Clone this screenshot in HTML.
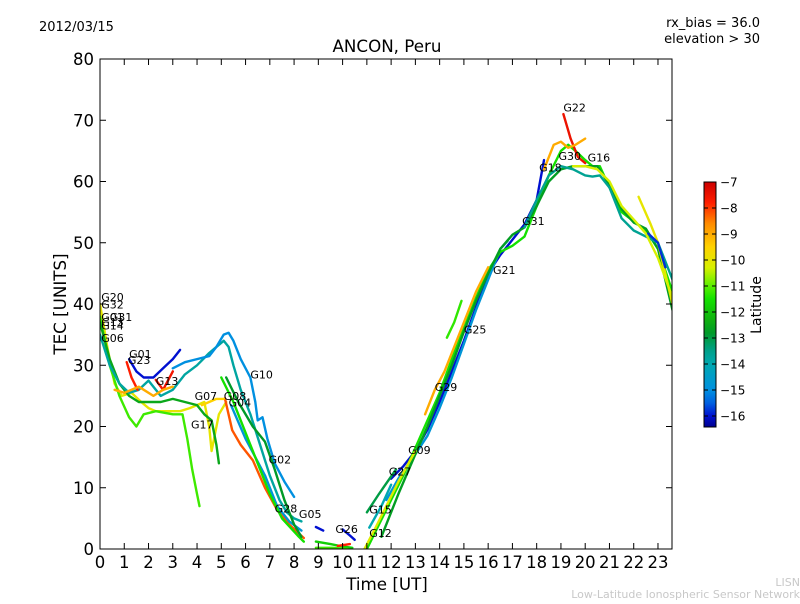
<!DOCTYPE html>
<html><head><meta charset="utf-8"><style>
body{margin:0;background:#fff;width:800px;height:600px;overflow:hidden;font-family:"DejaVu Sans","Liberation Sans",sans-serif}
</style></head><body>
<svg id="chart" width="800" height="600" xmlns="http://www.w3.org/2000/svg" font-family="DejaVu Sans, Liberation Sans, sans-serif">
<defs>
<linearGradient id="cbg" x1="0" y1="0" x2="0" y2="1">
</linearGradient>
<clipPath id="pc"><rect x="100" y="59" width="572" height="490"/></clipPath>
</defs>
<text x="39" y="31" font-size="13">2012/03/15</text>
<text x="760" y="27" font-size="13" text-anchor="end">rx_bias = 36.0</text>
<text x="760" y="43" font-size="13" text-anchor="end">elevation &gt; 30</text>
<text x="387" y="52" font-size="16.7" text-anchor="middle">ANCON, Peru</text>
<text x="387" y="590" font-size="16.7" text-anchor="middle">Time [UT]</text>
<text x="0" y="0" font-size="16.7" text-anchor="middle" transform="translate(66,304) rotate(-90)">TEC [UNITS]</text>
<g id="tracks" clip-path="url(#pc)"></g>
<g id="labels" font-size="11"></g>
<rect x="100" y="59" width="572" height="490" fill="none" stroke="#000" stroke-width="1"/>
<g id="axes"></g>
<rect x="704" y="182" width="12" height="245" fill="url(#cbg)" stroke="#000" stroke-width="1"/>
<g id="cbticks" font-size="12"></g>
<text x="0" y="0" font-size="14" text-anchor="middle" transform="translate(761,305) rotate(-90)">Latitude</text>
<text x="800" y="586" font-size="11" fill="#c8c8c8" text-anchor="end">LISN</text>
<text x="800" y="598" font-size="11" fill="#c8c8c8" text-anchor="end">Low-Latitude Ionospheric Sensor Network</text>
</svg>
<script>
const xTicks=[0,1,2,3,4,5,6,7,8,9,10,11,12,13,14,15,16,17,18,19,20,21,22,23];
const yTicks=[0,10,20,30,40,50,60,70,80];
const cbTicks=[-7,-8,-9,-10,-11,-12,-13,-14,-15,-16];
const trackLats=[-10,-11.2,-12.5,-13.8,-15,-16,-7.8,-7.6,-9,-8.2,-14.8,-11.5,-12.8,-16,-9.5,-11.8,-16,-7.8,-11.2,-16,-14.8,-11.5,-9,-12.7,-13.6,-10,-11.3,-7.5,-9,-10.3,-13,-14,-10.2,-15.8];
const trackData=[
[[0,40],[0.3,33],[0.6,27],[0.9,25],[1.3,25.5],[1.7,24],[2.0,23],[2.3,22.5],[2.8,22.5],[3.3,22.5],[3.7,23],[4.0,23.5],[4.3,24],[4.5,20],[4.6,16],[4.7,18],[4.9,22],[5.2,24]],
[[0,38],[0.4,30],[0.8,25],[1.2,21.5],[1.5,20],[1.8,22],[2.3,22.5],[3.0,22],[3.4,22],[3.6,18],[3.8,13],[4.0,9],[4.1,7]],
[[0,37],[0.4,31],[0.8,27],[1.2,25],[1.6,24],[2.5,24],[3,24.5],[3.5,24],[4.0,23.5],[4.3,22],[4.6,21],[4.8,17],[4.9,14]],
[[0,35],[0.4,30],[0.8,27],[1.2,25.5],[1.6,26],[2.0,27.5],[2.5,25],[3.0,26],[3.5,28.5],[4.0,30],[4.5,32],[4.8,33],[5.1,34],[5.3,33],[5.5,30],[5.8,26],[6.2,22],[6.6,17],[7.0,12],[7.4,8],[7.7,6],[8.0,5],[8.3,4.5]],
[[3.0,29.5],[3.5,30.5],[4,31],[4.5,31.5],[4.8,33],[5.1,35],[5.3,35.3],[5.5,34],[5.8,31],[6.2,28],[6.4,24],[6.5,21],[6.7,21.5],[6.9,18],[7.2,14],[7.6,11],[8.0,8.5]],
[[1.2,31],[1.5,29],[1.8,28],[2.2,28],[2.6,29.5],[3.0,31],[3.3,32.5]],
[[1.1,30.5],[1.3,28],[1.55,26]],
[[2.3,27.6],[2.6,26],[3.0,29]],
[[0.6,26],[1.0,25.5],[1.6,26.5],[2.2,25],[2.6,26],[3.0,26.5]],
[[5.15,24.6],[5.45,19.4],[5.8,17],[6.3,14.5],[6.8,10],[7.3,6.4],[7.8,4],[8.4,1.8]],
[[5.4,23.5],[6,18],[6.8,12],[7.3,7],[7.8,4.5],[8.3,3]],
[[5.0,28],[5.5,24],[6.2,17],[7,9],[7.5,5],[8.2,2],[8.4,1.2]],
[[5.2,28],[5.7,24],[6.3,20],[6.8,17.5],[7.2,13],[7.6,8],[8.0,4],[8.3,2]],
[[8.9,3.6],[9.2,3.0]],
[[4.2,23.5],[4.8,24.5],[5.1,24.5]],
[[8.9,1.2],[9.5,0.8],[10,0.4],[10.4,0.2]],
[[10,3.2],[10.3,2.2],[10.5,1.5]],
[[9.8,0.5],[10.3,0.8]],
[[8.9,0.2],[9.6,0.2],[10.2,0]],
[[12,11.5],[12.5,13.5],[13,16],[13.5,19.5],[14,24],[14.5,29],[15,34],[15.5,39.5],[16,45],[16.5,48],[17,50.5],[17.5,53],[18,57],[18.3,63.5]],
[[11.8,8],[12.3,11.5],[13,15.5],[13.5,18.5],[14,23],[14.5,28],[15,33.5],[15.5,39],[16,44],[16.5,49],[16.8,50.3]],
[[11,0],[11.5,4],[12,8],[12.5,12],[13,16.5],[13.5,21],[14,25.5],[14.5,31],[15,36],[15.5,41],[16,45.5],[16.5,48.5],[17,49.5],[17.5,51],[18,56],[18.5,61],[19,65],[19.3,66],[19.6,65],[20,63.5],[20.3,62.5],[20.6,62.5],[21,59],[21.5,55],[22,53.5],[22.5,52],[23,49],[23.6,42]],
[[13.4,22],[13.8,26],[14.2,29],[14.6,33],[15,37],[15.5,42],[16,46]],
[[11.6,2],[12.3,9],[13,15.5],[13.5,20],[14,25],[14.5,30],[15,35.5],[15.5,40.5],[16,45],[16.5,49],[17,51.3],[17.5,52.5],[18,56],[18.5,60],[19,62],[19.5,62.5],[20,62.5],[20.5,62.5],[21,59.5],[21.5,55.5],[22,53.3],[22.5,52.3],[23,49],[23.6,39]],
[[17.5,52.5],[18,57],[18.5,61],[19,62.5],[19.5,62],[20,61],[20.3,60.8],[20.6,61],[21,59],[21.5,54],[22,52],[22.5,51],[23,50],[23.6,44]],
[[22.2,57.5],[22.7,53],[23,50],[23.6,40]],
[[14.3,34.5],[14.6,37],[14.9,40.5]],
[[19.1,71],[19.4,67],[19.7,64],[20,63]],
[[18.3,62],[18.7,66],[19.0,66.5],[19.3,65.5],[19.6,66],[20,67]],
[[19.5,62.5],[20,62.5],[20.5,62],[21,60],[21.5,56],[22,53.8],[22.5,51.5],[23,47.5],[23.6,41]],
[[11.0,6],[11.5,9],[12.2,13]],
[[11.1,3.5],[11.6,7],[12,10.5]],
[[10.9,0],[11.3,3],[11.8,7],[12.3,11],[13,16]],
[[22.6,51.5],[23,50],[23.3,46]]
];
const NS="http://www.w3.org/2000/svg";
const X0=100,XS=24.26,Y0=549,YS=6.125;
function xs(t){return X0+t*XS;}
function ys(v){return Y0-v*YS;}
const cStops=[[-7,[204,0,0]],[-7.8,[255,30,0]],[-8.6,[255,140,0]],[-9.5,[255,210,0]],[-10.3,[215,240,0]],[-11,[90,240,0]],[-11.5,[20,225,0]],[-12.3,[16,176,16]],[-12.8,[0,154,40]],[-13.5,[0,160,138]],[-14,[0,168,176]],[-15,[0,144,224]],[-15.5,[0,96,224]],[-16,[0,16,208]],[-16.42,[0,0,144]]];
function col(l){for(let i=0;i<cStops.length-1;i++){const a=cStops[i],b=cStops[i+1];if(l<=a[0]&&l>=b[0]){const f=(a[0]-l)/(a[0]-b[0]);const c=a[1].map((v,k)=>Math.round(v+(b[1][k]-v)*f));return `rgb(${c})`;}}return l>-7?'rgb(204,0,0)':'rgb(0,0,144)';}
function mk(tag,attrs,parent){const e=document.createElementNS(NS,tag);for(const k in attrs)e.setAttribute(k,attrs[k]);parent.appendChild(e);return e;}
const grad=document.getElementById('cbg');
cStops.forEach(s=>{mk('stop',{offset:((-7-s[0])/9.42).toFixed(3),'stop-color':col(s[0])},grad);});
const tg=document.getElementById('tracks');
trackData.forEach((tr,i)=>{
 const p=mk('polyline',{points:tr.map(d=>xs(d[0]).toFixed(1)+','+ys(d[1]).toFixed(1)).join(' '),fill:'none',stroke:col(trackLats[i]),'stroke-width':2.4,'stroke-linejoin':'round','stroke-linecap':'round'},tg);
 
 
});
const satLabels=[["G20",0.05,40.5],["G32",0.05,39.3],["G01",0.05,37.2],["G31",0.4,37.2],["G13",0.05,36.4],["G14",0.05,35.8],["G06",0.05,33.8],["G01",1.2,31.2],["G23",1.15,30.2],["G13",2.3,26.8],["G07",3.9,24.3],["G08",5.1,24.3],["G04",5.3,23.3],["G17",3.75,19.7],["G10",6.2,27.8],["G02",6.95,14],["G28",7.2,6],["G05",8.2,5.1],["G26",9.7,2.6],["G12",11.1,2],["G15",11.1,5.8],["G27",11.9,12],["G09",12.7,15.5],["G29",13.8,25.8],["G25",15,35.2],["G21",16.2,44.9],["G31",17.4,52.9],["G18",18.1,61.6],["G22",19.1,71.4],["G30",18.9,63.5],["G16",20.1,63.3]];
const lg=document.getElementById('labels');
satLabels.forEach(s=>{const t=mk('text',{x:xs(s[1]),y:ys(s[2])},lg);t.textContent=s[0];
 
 });
const ag=document.getElementById('axes');
xTicks.forEach(v=>{const x=xs(v);
 mk('line',{x1:x,x2:x,y1:549,y2:543,stroke:'#000'},ag);mk('line',{x1:x,x2:x,y1:59,y2:65,stroke:'#000'},ag);
 const t=mk('text',{x:x,y:568,'font-size':16.5,'text-anchor':'middle'},ag);t.textContent=v;
 
 });
yTicks.forEach(v=>{const y=ys(v);
 mk('line',{x1:100,x2:106,y1:y,y2:y,stroke:'#000'},ag);mk('line',{x1:672,x2:666,y1:y,y2:y,stroke:'#000'},ag);
 const t=mk('text',{x:94,y:y+6,'font-size':16.5,'text-anchor':'end'},ag);t.textContent=v;
 
 });
const cg=document.getElementById('cbticks');
cbTicks.forEach(v=>{const y=182+(-7-v)*26;
 mk('line',{x1:704,x2:708,y1:y,y2:y,stroke:'#000'},cg);mk('line',{x1:716,x2:712,y1:y,y2:y,stroke:'#000'},cg);
 const t=mk('text',{x:720,y:y+4.5},cg);t.textContent='\u2212'+(-v);
 
 });
</script>
</body></html>
